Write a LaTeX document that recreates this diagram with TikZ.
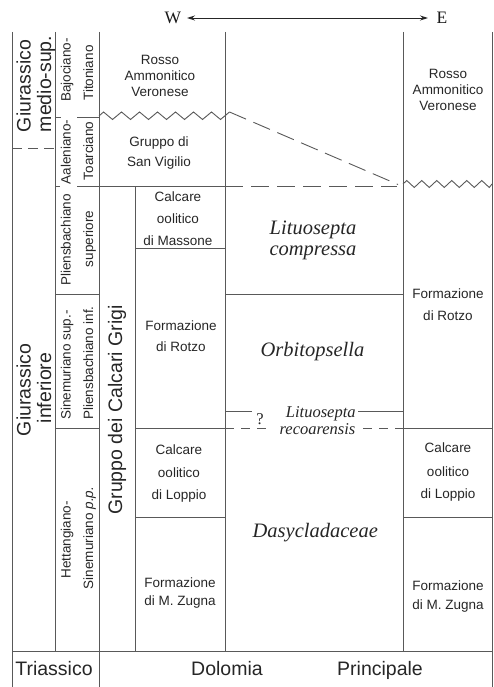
\documentclass[tikz,border=0pt]{standalone}
\usepackage{fontspec}
\setmainfont{Liberation Sans}
\newfontfamily\tms{Liberation Serif}
\usetikzlibrary{arrows.meta}
\begin{document}
\begin{tikzpicture}[x=1pt,y=-1pt,
  rl/.style={draw=black!65, line width=0.9pt},
  dl/.style={rl, dash pattern=on 9pt off 7pt},
  ld/.style={rl, dash pattern=on 18pt off 8pt},
  tx/.style={anchor=base, inner sep=0pt, text=black!85, font=\fontsize{13.5}{16}\selectfont},
  st/.style={anchor=base, inner sep=0pt, rotate=90, text=black!85, font=\fontsize{13.5}{15}\selectfont},
  bg/.style={anchor=base, inner sep=0pt, rotate=90, text=black!85, font=\fontsize{19.5}{22}\selectfont},
  fo/.style={anchor=base, inner sep=0pt, text=black!85, font=\tms\itshape\fontsize{20.5}{23}\selectfont},
  fs/.style={anchor=base, inner sep=0pt, text=black!85, font=\tms\itshape\fontsize{16.5}{19}\selectfont},
  bt/.style={anchor=base, inner sep=0pt, text=black!85, font=\fontsize{19.5}{22}\selectfont},
  dir/.style={anchor=base, inner sep=0pt, text=black!90, font=\tms\fontsize{17.5}{20}\selectfont},
]
\useasboundingbox (0,0) rectangle (494,687);

% ---------- direction arrow ----------
\node[dir] (W) at (173,23.5) {W};
\node[dir] (E) at (442,23.5) {E};
\coordinate (aL) at (187,18);
\coordinate (aR) at (428,18);
\draw[line width=0.9pt, black!85, {Stealth[length=8pt,width=5pt]}-{Stealth[length=8pt,width=5pt]}] (aL) -- (aR);

% ---------- vertical rules ----------
\draw[rl] (12,32) -- (12,687);
\draw[rl] (55,32) -- (55,651);
\draw[rl] (99,32) -- (99,687);
\draw[rl] (135,186) -- (135,651);
\draw[rl] (225,32) -- (225,651);
\draw[rl] (403,32) -- (403,651);
\draw[rl] (492,32) -- (492,687);

% ---------- horizontal rules ----------
\draw[rl] (12,651) -- (492,651);
\draw[rl, dash pattern=on 10pt off 6pt] (12,148) -- (55,148);
\draw[rl] (55,117) -- (61,117);
\draw[rl] (77,117) -- (99,117);
\draw[rl] (55,186) -- (60,186);
\draw[rl] (77,186) -- (225,186);
\draw[ld] (225,186) -- (397,186);
% zigzag (west)
\draw[rl] (99,116) \foreach \k in {0,...,6} { -- ({103.5+18*\k},112) -- ({112.5+18*\k},119.5) } -- (229.5,112);
% diagonal dashed
\draw[ld] (229.5,112) -- (398,184.5);
% zigzag (east)
\draw[rl] (403,184) \foreach \k in {0,...,5} { -- ({406.75+15*\k},180.5) -- ({414.25+15*\k},187.5) } -- (492,184);
\draw[rl] (135,248.5) -- (225,248.5);
\draw[rl] (55,294) -- (99,294);
\draw[rl] (225,294) -- (403,294);
\draw[rl] (225,411) -- (252,411);
\draw[rl] (358,411) -- (403,411);
\draw[rl] (55,428) -- (99,428);
\draw[rl] (135,428) -- (225,428);
\draw[dl] (225,428) -- (266,428);
\draw[dl] (363,428) -- (403,428);
\draw[rl] (403,428) -- (492,428);
\draw[rl] (135,517.5) -- (225,517.5);
\draw[rl] (403,517.5) -- (492,517.5);

% ---------- period column ----------
\node[bg] (g1a) at (30.5,86) {Giurassico};
\node[bg] (g1b) at (51,84) {medio-sup.};
\node[bg] (g2a) at (30.5,390) {Giurassico};
\node[bg] (g2b) at (51,388) {inferiore};

% ---------- stage column ----------
\node[st] (s1a) at (70.5,70) {Bajociano-};
\node[st] (s1b) at (93,73) {Titoniano};
\node[st] (s2a) at (70.5,152) {Aaleniano-};
\node[st] (s2b) at (93,151) {Toarciano};
\node[st] (s3a) at (70.5,240) {Pliensbachiano};
\node[st] (s3b) at (93,239) {superiore};
\node[st] (s4a) at (70.5,365) {Sinemuriano sup.-};
\node[st] (s4b) at (93,363) {Pliensbachiano inf.};
\node[st] (s5a) at (70.5,540) {Hettangiano-};
\node[st] (s5b) at (93,538) {Sinemuriano \textit{p.p.}};

% ---------- group column ----------
\node[bg] (gcg) at (122,410) {Gruppo dei Calcari Grigi};

% ---------- west column ----------
\node[tx] (wr1) at (160,65) {Rosso};
\node[tx] (wr2) at (160,80.7) {Ammonitico};
\node[tx] (wr3) at (160,96.7) {Veronese};
\node[tx] (wg1) at (159,146.5) {Gruppo di};
\node[tx] (wg2) at (159,167) {San Vigilio};
\node[tx] (wm1) at (178,201) {Calcare};
\node[tx] (wm2) at (178,223.5) {oolitico};
\node[tx] (wm3) at (178,245.5) {di Massone};
\node[tx] (wf1) at (181,330) {Formazione};
\node[tx] (wf2) at (181,351.7) {di Rotzo};
\node[tx] (wl1) at (179,454) {Calcare};
\node[tx] (wl2) at (179,477.3) {oolitico};
\node[tx] (wl3) at (179,499.3) {di Loppio};
\node[tx] (wz1) at (180,587.3) {Formazione};
\node[tx] (wz2) at (180,605.7) {di M. Zugna};

% ---------- middle column ----------
\node[fo] (lc1) at (313,234) {Lituosepta};
\node[fo] (lc2) at (313,255) {compressa};
\node[fo] (orb) at (312.5,356) {Orbitopsella};
\node[fs] (q) at (260,424.3) {\upshape ?};
\node[fs] (lr1) at (320.8,417.3) {Lituosepta};
\node[fs] (lr2) at (317.5,434) {recoarensis};
\node[fo] (das) at (315.3,537.3) {Dasycladaceae};

% ---------- east column ----------
\node[tx] (er1) at (448,79) {Rosso};
\node[tx] (er2) at (448,95) {Ammonitico};
\node[tx] (er3) at (448,110.7) {Veronese};
\node[tx] (ef1) at (448,298.3) {Formazione};
\node[tx] (ef2) at (448,320) {di Rotzo};
\node[tx] (el1) at (448,452.7) {Calcare};
\node[tx] (el2) at (448,476) {oolitico};
\node[tx] (el3) at (448,498.7) {di Loppio};
\node[tx] (ez1) at (448,590.7) {Formazione};
\node[tx] (ez2) at (448,609.3) {di M. Zugna};

% ---------- bottom row ----------
\node[bt] (tri) at (54,675) {Triassico};
\node[bt] (dol) at (227,675) {Dolomia};
\node[bt] (pri) at (380,675) {Principale};
\end{tikzpicture}
\end{document}
